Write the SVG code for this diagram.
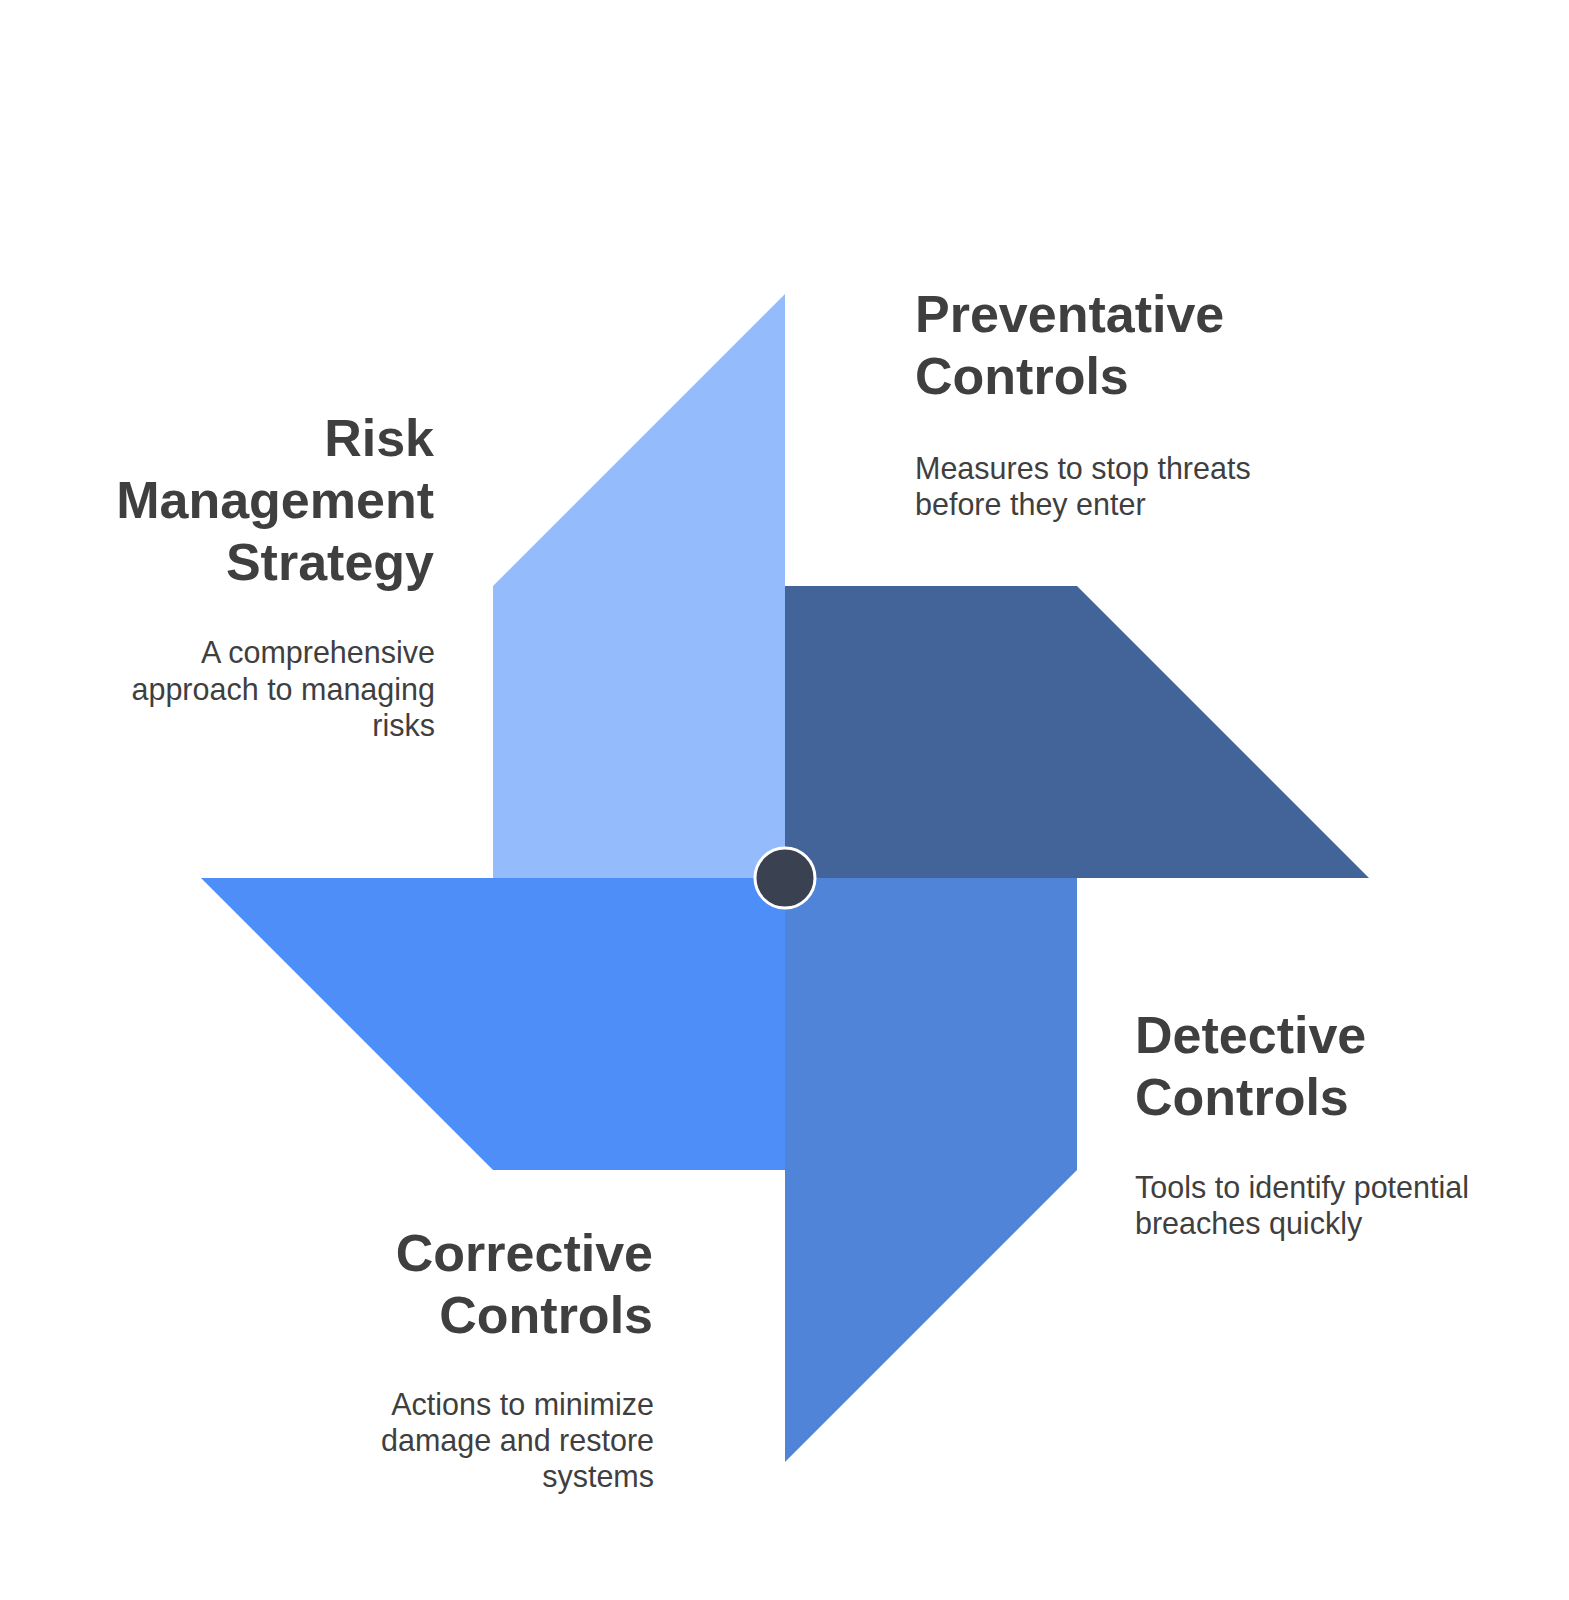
<svg xmlns="http://www.w3.org/2000/svg" width="1569" height="1600" viewBox="0 0 1569 1600">
  <style>
    .title { font-family: "Liberation Sans", Arial, sans-serif; font-weight: bold; font-size: 52px; fill: #3f3f3f; }
    .body { font-family: "Liberation Sans", Arial, sans-serif; font-size: 30.5px; fill: #3f3f3f; }
    .end { text-anchor: end; }
  </style>
  <rect x="0" y="0" width="1569" height="1600" fill="#ffffff"/>
  <g id="blades">
    <g id="blade-risk"><polygon points="785,294 785,878 493,878 493,586" fill="#94BBFC"/></g>
    <g id="blade-preventative"><polygon points="785,586 1077,586 1369,878 785,878" fill="#426498"/></g>
    <g id="blade-corrective"><polygon points="201,878 785,878 785,1170 493,1170" fill="#4E8EF8"/></g>
    <g id="blade-detective"><polygon points="785,878 1077,878 1077,1170 785,1462" fill="#5084D8"/></g>
  </g>
  <g id="connectors"></g>
  <g id="hub"><circle cx="785" cy="878" r="30" fill="#3A4252" stroke="#ffffff" stroke-width="3"/></g>
  <g id="risk-management-strategy">
    <text class="title end" x="434" y="456">Risk</text>
    <text class="title end" x="434" y="518">Management</text>
    <text class="title end" x="434" y="580">Strategy</text>
    <text class="body end" x="435" y="663">A comprehensive</text>
    <text class="body end" x="435" y="700">approach to managing</text>
    <text class="body end" x="435" y="736">risks</text>
  </g>
  <g id="preventative-controls">
    <text class="title" x="915" y="332">Preventative</text>
    <text class="title" x="915" y="394">Controls</text>
    <text class="body" x="915" y="479">Measures to stop threats</text>
    <text class="body" x="915" y="515">before they enter</text>
  </g>
  <g id="detective-controls">
    <text class="title" x="1135" y="1053">Detective</text>
    <text class="title" x="1135" y="1115">Controls</text>
    <text class="body" x="1135" y="1198">Tools to identify potential</text>
    <text class="body" x="1135" y="1234">breaches quickly</text>
  </g>
  <g id="corrective-controls">
    <text class="title end" x="653" y="1271">Corrective</text>
    <text class="title end" x="653" y="1333">Controls</text>
    <text class="body end" x="654" y="1415">Actions to minimize</text>
    <text class="body end" x="654" y="1451">damage and restore</text>
    <text class="body end" x="654" y="1487">systems</text>
  </g>
</svg>
